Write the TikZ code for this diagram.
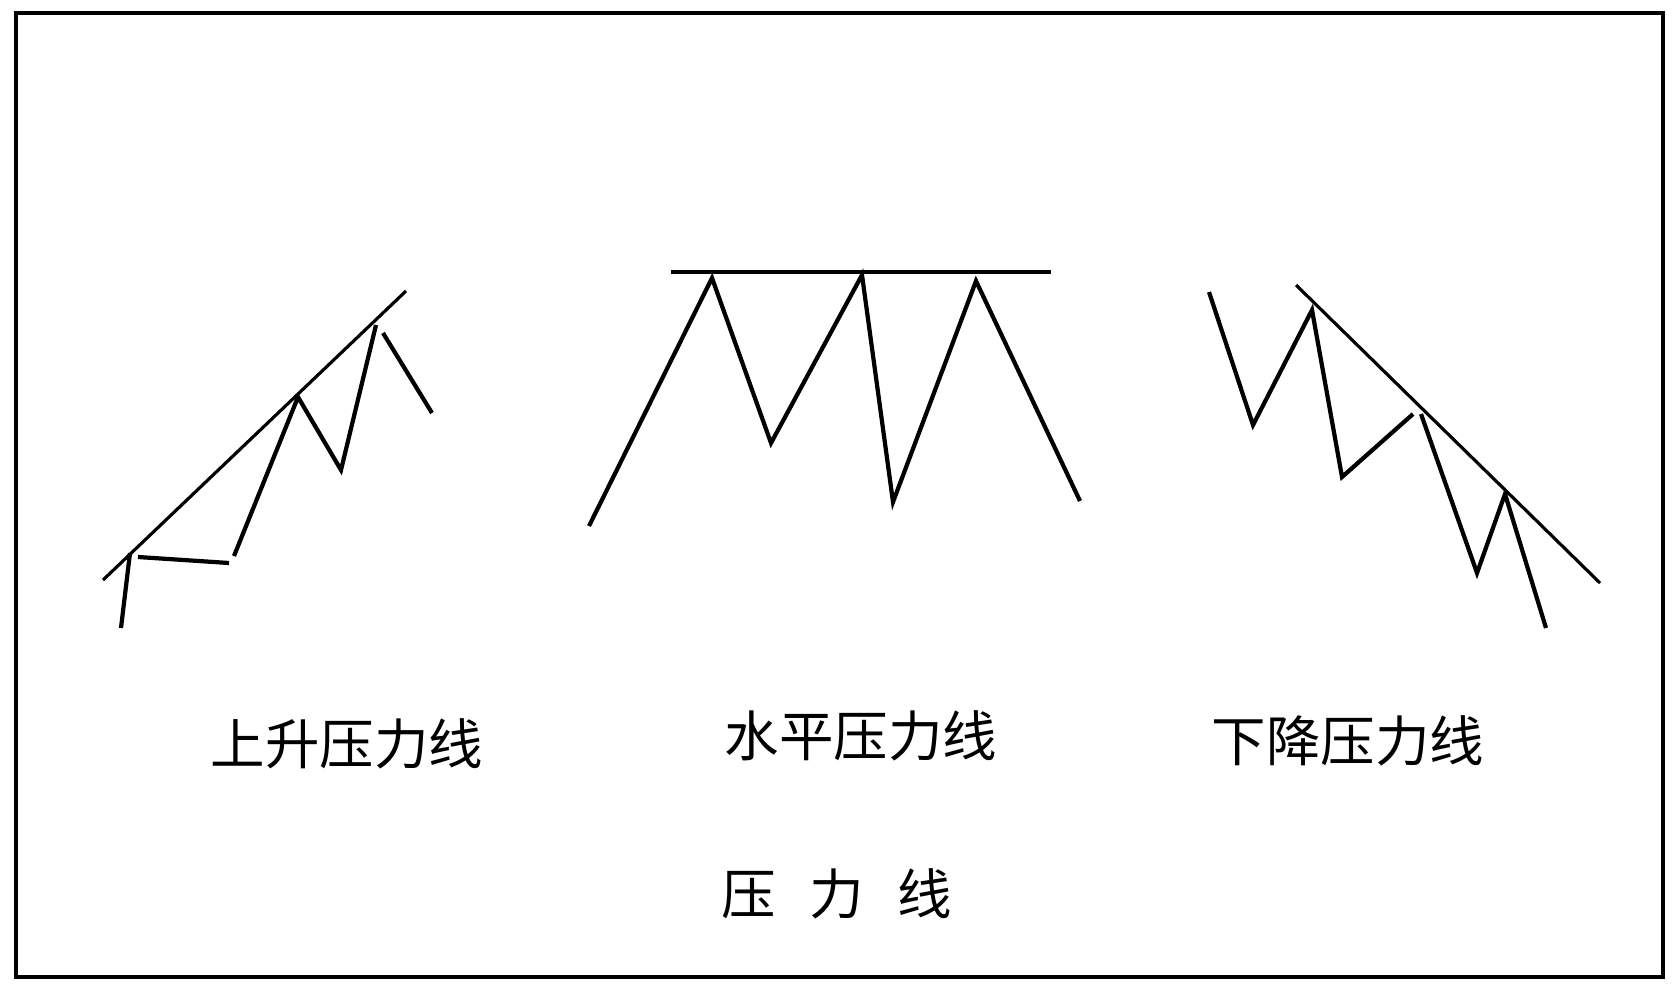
\documentclass[tikz,border=0pt]{standalone}
\usepackage{fontspec}
\usepackage{tkz-euclide}
\newfontfamily\cjk{Noto Sans CJK SC}

\tikzset{
  trend/.style={line width=0.9pt},
  price/.style={line width=1.2pt, line join=miter},
  caption/.style={font=\cjk\fontsize{15.5}{18}\selectfont, inner sep=0pt}
}

\begin{document}
\begin{tikzpicture}

  \useasboundingbox (0,0) rectangle (16.72,9.92);

  % Outer frame
  \tkzDefPoints{0.16/0.15/F1, 16.63/9.79/F2}
  \draw[line width=1pt] (F1) rectangle (F2);

  % Rising resistance line
  \tkzDefPoints{1.03/4.12/U0, 4.06/7.01/U9}
  \tkzDefPoints{1.21/3.64/A1, 1.30/4.39/A2, 1.38/4.35/A3, 2.29/4.29/A4,
    2.34/4.36/A5, 2.98/5.95/A6, 3.41/5.22/A7, 3.76/6.67/A8,
    3.83/6.59/A9, 4.32/5.79/A10}
  \draw[trend] (U0) -- (U9);
  \draw[price] (A1) -- (A2);
  \draw[price] (A3) -- (A4);
  \draw[price] (A5) -- (A6) -- (A7) -- (A8);
  \draw[price] (A9) -- (A10);

  % Horizontal resistance line
  \tkzDefPoints{6.71/7.20/H0, 10.51/7.20/H9}
  \tkzDefPoints{5.89/4.66/B1, 7.12/7.14/B2, 7.71/5.49/B3, 8.62/7.17/B4,
    8.93/4.90/B5, 9.76/7.11/B6, 10.80/4.91/B7}
  \draw[trend] (H0) -- (H9);
  \draw[price] (B1) -- (B2) -- (B3) -- (B4) -- (B5) -- (B6) -- (B7);

  % Falling resistance line
  \tkzDefPoints{12.96/7.07/D0, 16.00/4.09/D9}
  \tkzDefPoints{12.09/7.00/C1, 12.53/5.67/C2, 13.12/6.82/C3, 13.42/5.15/C4,
    14.13/5.78/C5, 14.21/5.78/C6, 14.77/4.19/C7, 15.05/4.98/C8,
    15.46/3.64/C9}
  \draw[trend] (D0) -- (D9);
  \draw[price] (C1) -- (C2) -- (C3) -- (C4) -- (C5);
  \draw[price] (C6) -- (C7) -- (C8) -- (C9);

  % Labels
  \node[caption] (rise) at (3.47, 2.48) {上升压力线};
  \node[caption] (flat) at (8.61, 2.56) {水平压力线};
  \node[caption] (fall) at (13.48, 2.51) {下降压力线};
  \node[caption] (title) at (8.37, 0.98) {压\hspace{0.62em}力\hspace{0.62em}线};

\end{tikzpicture}
\end{document}
